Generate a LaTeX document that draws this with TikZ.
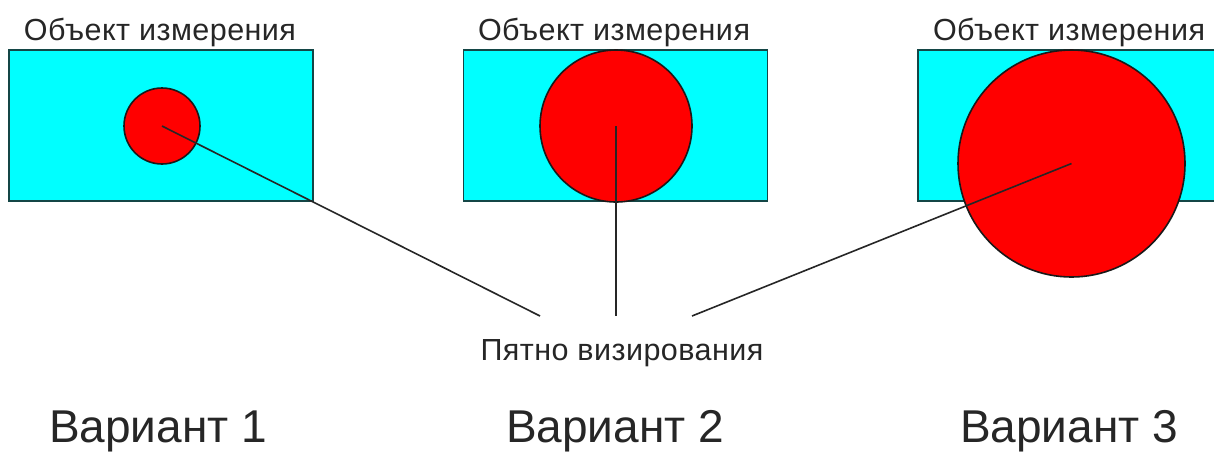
\documentclass[tikz,border=0pt]{standalone}
\usepackage{fontspec}
\setmainfont{Liberation Sans}
\usetikzlibrary{positioning}
\definecolor{objcyan}{RGB}{0,255,255}
\definecolor{spotred}{RGB}{255,0,0}
\definecolor{objedge}{RGB}{20,70,70}

\begin{document}
\begin{tikzpicture}[
  x=1pt, y=-1pt,
  target/.style={
    draw=objedge,
    fill=objcyan,
    line width=1.6pt,
    minimum width=304pt,
    minimum height=151pt,
    inner sep=0pt
  },
  spot/.style={
    circle,
    draw=black!90,
    fill=spotred,
    line width=1.6pt,
    inner sep=0pt
  },
  pointer/.style={
    line width=1.6pt,
    black!85
  },
  label/.style={
    anchor=base,
    inner sep=0pt,
    font=\fontsize{30.5}{34}\selectfont\addfontfeatures{LetterSpace=1.5},
    text=black!85
  },
  variant/.style={
    anchor=base,
    inner sep=0pt,
    font=\fontsize{46}{52}\selectfont,
    text=black!85
  }
]
\useasboundingbox (0,0) rectangle (1214,451);

% Objects of measurement
\node[target] (obj1) at (161,125.5) {};
\node[target] (obj2) at (615.5,125.5) {};
\node[target] (obj3) at (1070,125.5) {};

\node[label] (objlab1) at (160,40) {Объект измерения};
\node[label] (objlab2) at (614,40) {Объект измерения};
\node[label] (objlab3) at (1069,40) {Объект измерения};

% Sighting spots
\node[spot, minimum size=76pt] (spot1) at (162,126) {};
\node[spot, minimum size=152pt] (spot2) at (616,126) {};
\node[spot, minimum size=227pt] (spot3) at (1071.5,163.5) {};

% Common caption
\node[label] (spotlab) at (622,360) {Пятно визирования};

\coordinate (end1) at (540,316);
\coordinate (end2) at (616,316);
\coordinate (end3) at (692,316);

\draw[pointer] (spot1.center) -- (end1);
\draw[pointer] (spot2.center) -- (end2);
\draw[pointer] (spot3.center) -- (end3);

% Variants
\node[variant] (var1) at (158,442) {Вариант 1};
\node[variant] (var2) at (615,442) {Вариант 2};
\node[variant] (var3) at (1069,442) {Вариант 3};
\end{tikzpicture}
\end{document}
